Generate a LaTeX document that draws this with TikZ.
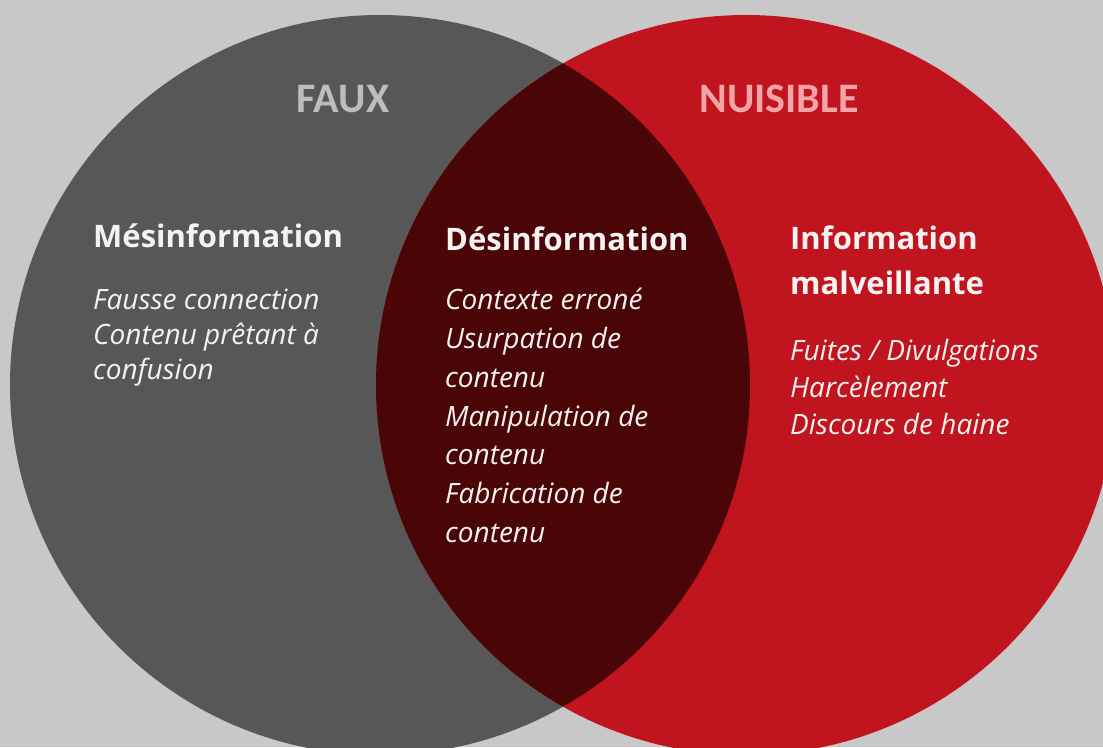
\documentclass[tikz,border=0pt]{standalone}
\usepackage{fontspec}
\setmainfont{Open Sans}
\newfontfamily\setfont{Carlito}
\usepackage{tikz}
\usetikzlibrary{positioning}

\definecolor{bggray}{HTML}{C8C8C8}
\definecolor{fauxgray}{HTML}{575757}
\definecolor{nuisred}{HTML}{C0141F}
\definecolor{overlapred}{HTML}{4A0606}
\definecolor{fauxtext}{HTML}{BDBDBD}
\definecolor{nuistext}{HTML}{F4A3A6}
\definecolor{lettertext}{HTML}{F7F2F2}

\begin{document}
\begin{tikzpicture}[x=1pt, y=-1pt,
	settitle/.style={inner sep=0pt, font=\setfont\bfseries\fontsize{42}{46}\selectfont},
	heading/.style={inner sep=0pt, text=lettertext, align=left, font=\bfseries\fontsize{31}{45}\selectfont},
	items/.style={inner sep=0pt, text=lettertext, align=left, font=\itshape\fontsize{28}{#1}\selectfont},
	items/.default=37]
	\useasboundingbox (0,0) rectangle (1103,747);
	\fill[bggray] (0,0) rectangle (1103,747);
	
	%cercles
	\begin{scope}
		\clip (0,0) rectangle (1103,747);
		\fill[fauxgray] (380,385) circle[radius=370pt];
		\fill[nuisred] (746,385) circle[radius=370pt];
		\clip (380,385) circle[radius=370pt];
		\fill[overlapred] (746,385) circle[radius=370pt];
	\end{scope}
	
	%titres
	\node[settitle, text=fauxtext, anchor=base] (faux) at (343,112) {FAUX};
	\node[settitle, text=nuistext, anchor=base] (nuisible) at (779,112) {NUISIBLE};
	
	%Mesinformation
	\node[heading, anchor=base west] (mesinfo) at (93,247) {Mésinformation};
	\node[items=35, anchor=north west] (mesitems) at (93,289) {Fausse connection\\Contenu prêtant à\\confusion};
	
	%Desinformation
	\node[heading, anchor=base west] (desinfo) at (445,250) {Désinformation};
	\node[items=38.8, anchor=north west] (desitems) at (445,288) {Contexte erroné\\Usurpation de\\contenu\\Manipulation de\\contenu\\Fabrication de\\contenu};
	
	%Information malveillante
	\node[heading, anchor=north west] (malinfo) at (790,226) {Information\\malveillante};
	\node[items=37, anchor=north west] (malitems) at (790,339) {Fuites / Divulgations\\Harcèlement\\Discours de haine};
\end{tikzpicture}
\end{document}
